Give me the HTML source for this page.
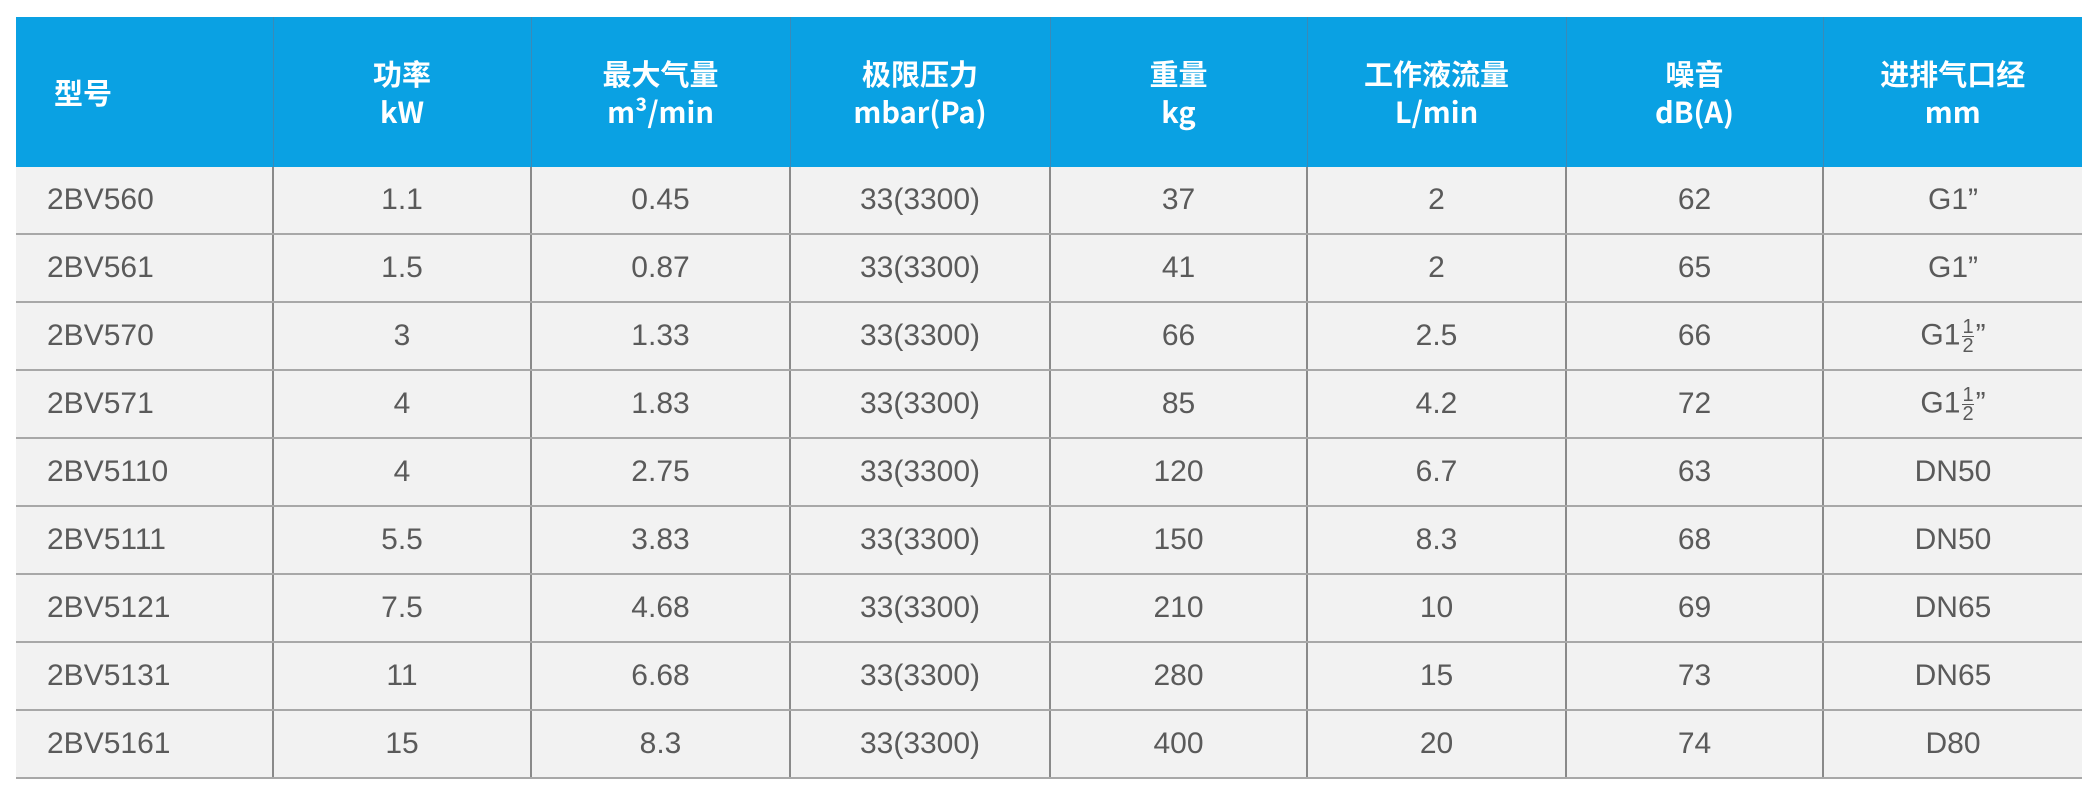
<!DOCTYPE html>
<html><head><meta charset="utf-8"><style>
html,body{margin:0;padding:0;background:#fff;width:2097px;height:795px;overflow:hidden}
table{position:absolute;left:16px;top:17px;border-collapse:collapse;table-layout:fixed;width:2066px;font-family:"Liberation Sans","Noto Sans CJK SC",sans-serif}
th{background:#0aa1e3;color:#fff;font-family:"Noto Sans CJK SC","Liberation Sans",sans-serif;font-weight:bold;font-size:29px;line-height:38px;height:150px;padding:0;border-left:1px solid #3a8ab8;text-align:center}
th:first-child{border-left:none;text-align:left;padding-left:38px}
td{background:#f2f2f2;color:#5a5a5a;font-size:30px;height:66px;padding:0;text-align:center;border-left:2px solid #8a8a8a;border-bottom:2px solid #a8a8a8}
td:first-child{border-left:none;text-align:left;padding-left:31px}
.f{display:inline-block;vertical-align:middle;font-size:20px;line-height:18px;text-align:center;margin:0 2px}
.f span{display:block}
.f span:first-child{border-bottom:1px solid #5a5a5a}
</style></head><body>
<table>
<colgroup><col style="width:257px"><col style="width:258px"><col style="width:259px"><col style="width:260px"><col style="width:257px"><col style="width:259px"><col style="width:257px"><col style="width:259px"></colgroup>
<tr><th>型号</th><th>功率<br>kW</th><th>最大气量<br>m³/min</th><th>极限压力<br>mbar(Pa)</th><th>重量<br>kg</th><th>工作液流量<br>L/min</th><th>噪音<br>dB(A)</th><th>进排气口经<br>mm</th></tr>
<tr><td>2BV560</td><td>1.1</td><td>0.45</td><td>33(3300)</td><td>37</td><td>2</td><td>62</td><td>G1”</td></tr>
<tr><td>2BV561</td><td>1.5</td><td>0.87</td><td>33(3300)</td><td>41</td><td>2</td><td>65</td><td>G1”</td></tr>
<tr><td>2BV570</td><td>3</td><td>1.33</td><td>33(3300)</td><td>66</td><td>2.5</td><td>66</td><td>G1<span class="f"><span>1</span><span>2</span></span>”</td></tr>
<tr><td>2BV571</td><td>4</td><td>1.83</td><td>33(3300)</td><td>85</td><td>4.2</td><td>72</td><td>G1<span class="f"><span>1</span><span>2</span></span>”</td></tr>
<tr><td>2BV5110</td><td>4</td><td>2.75</td><td>33(3300)</td><td>120</td><td>6.7</td><td>63</td><td>DN50</td></tr>
<tr><td>2BV5111</td><td>5.5</td><td>3.83</td><td>33(3300)</td><td>150</td><td>8.3</td><td>68</td><td>DN50</td></tr>
<tr><td>2BV5121</td><td>7.5</td><td>4.68</td><td>33(3300)</td><td>210</td><td>10</td><td>69</td><td>DN65</td></tr>
<tr><td>2BV5131</td><td>11</td><td>6.68</td><td>33(3300)</td><td>280</td><td>15</td><td>73</td><td>DN65</td></tr>
<tr><td>2BV5161</td><td>15</td><td>8.3</td><td>33(3300)</td><td>400</td><td>20</td><td>74</td><td>D80</td></tr>
</table>
</body></html>
